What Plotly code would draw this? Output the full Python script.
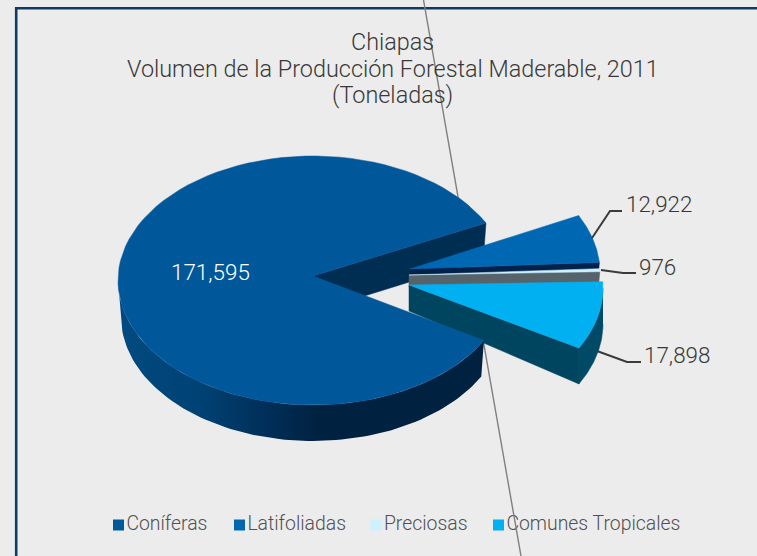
import numpy as np
import plotly.graph_objects as go

# ---- data ----
categories = ["Coníferas", "Latifoliadas", "Preciosas", "Comunes Tropicales"]
values = [171595, 12922, 976, 17898]
title_lines = ["Chiapas", "Volumen de la Producción Forestal Maderable, 2011", "(Toneladas)"]

# ---- colours ----
TOP = ["#00589b", "#0068b2", "#cdf1ff", "#00b0f0"]
CUT = ["#002d52", "#00214a", "#56636b", "#00455f"]
TXT = "#383838"
BG = "#ececec"
FONT = "Roboto"
WEIGHT = 300

# ---- geometry (pixels of the picture) ----
W, H = 757, 556
START = 27.5
RY = 124.5
DEPTH = 36
centres = [(313, 280.5), (407, 272.5), (407, 278), (408, 288)]
radii = [195, 193, 193, 195]
bottom_shrink = [3, 3, 3, 0]
apex_lift = [4.5, 3.5, 3, 3]
apex_drop = [36, 12, 12, 26]
apex_x = [313, 410, 409, 409]
legend_x = [118.5, 239.5, 376, 498.5]
legend_y = 525
title_y = [42, 69, 95]
label_pos = [(210, 272, "#ffffff"), (659, 204, TXT), (657, 267, TXT), (677, 355, TXT)]
leaders = [None,
           ([592, 610, 622], [238, 211, 211]),
           ([601, 623, 636], [270, 273, 273]),
           ([597, 627, 641], [351, 362, 362])]

total = sum(values)
sweeps = [v / total * 360 for v in values]
a_main0, a_main1 = START, START + sweeps[0]
bounds = [(a_main0, a_main1)]
a = START
for s in sweeps[1:]:
    bounds.append((a, a - s))
    a -= s


def rim(i, a0, a1, bottom=False, n=90):
    th = np.radians(np.linspace(a0, a1, n))
    cx, cy = centres[i]
    rx = radii[i] - (bottom_shrink[i] if bottom else 0)
    return cx + rx * np.cos(th), cy + (DEPTH if bottom else 0) - RY * np.sin(th)


fig = go.Figure()


def poly(x, y, color, **kw):
    fig.add_trace(go.Scatter(x=list(x), y=list(y), mode="lines", fill="toself", fillcolor=color,
                             line=dict(color=color, width=0.5), hoverinfo="skip", showlegend=False, **kw))


def line(x, y, color, width):
    fig.add_trace(go.Scatter(x=x, y=y, mode="lines", line=dict(color=color, width=width),
                             hoverinfo="skip", showlegend=False))


# frame, legend and stray rule sit behind the pie
line([16.2, 16.2, W], [H, 8.3, 8.3], "#0e3a63", 2.6)
fig.add_trace(go.Scatter(x=legend_x, y=[legend_y] * 4, mode="markers+text", text=categories,
                         textposition="middle right",
                         textfont=dict(family=FONT, size=19.4, color="#505050", weight=WEIGHT),
                         marker=dict(symbol="square", size=11, color=TOP), hoverinfo="skip", showlegend=False))
line([423.5, 521], [0, H], "#7f7f7f", 1.4)


def cut_face(i, ang):
    x, y = rim(i, ang, ang, n=1)
    xb, yb = rim(i, ang, ang, bottom=True, n=1)
    ax, ay = apex_x[i], centres[i][1] - apex_lift[i]
    poly([ax, x[0], xb[0], ax, ax], [ay, y[0], yb[0], ay + apex_drop[i], ay], CUT[i])


def top_face(i, a0, a1):
    x, y = rim(i, a0, a1)
    ax, ay = apex_x[i], centres[i][1] - apex_lift[i]
    poly(np.r_[ax, x, ax], np.r_[ay, y, ay], TOP[i])


# main slice: the cut face behind the detached wedges
cut_face(0, bounds[0][0])

# detached wedges, back to front
for i in (1, 2, 3):
    a0, a1 = bounds[i]
    cut_face(i, a1)
    if i == 3:
        lo, hi = a1, min(a0, 0)
        xt, yt = rim(i, hi, lo)
        xb, yb = rim(i, lo, hi, bottom=True)
        poly(np.r_[xt, xb], np.r_[yt, yb], "#004a68")
    top_face(i, a0, a1)

# main slice: outer wall with its left-to-right shading, then the top
xt, yt = rim(0, a_main1, 180)
xb, yb = rim(0, 180, a_main1, bottom=True)
fig.add_trace(go.Scatter(
    x=np.r_[xt, xb], y=np.r_[yt, yb], mode="lines", fill="toself",
    line=dict(width=0, color="#00213f"),
    fillgradient=dict(type="horizontal",
                      colorscale=[[0, "#014a80"], [0.22, "#004274"], [0.4, "#002f5a"],
                                  [0.56, "#00213f"], [1, "#00213f"]]),
    hoverinfo="skip", showlegend=False))
top_face(0, a_main0, a_main1)

# leader lines
for l in leaders:
    if l:
        line(l[0], l[1], "#3a3a3a", 2)

for v, (x, y, c) in zip(values, label_pos):
    fig.add_annotation(x=x, y=y, text=f"{v:,}", showarrow=False,
                       font=dict(family=FONT, size=22.4, color=c, weight=WEIGHT), xanchor="center", yanchor="middle")

for t, y in zip(title_lines, title_y):
    fig.add_annotation(x=392.5, y=y, text=t, showarrow=False,
                       font=dict(family=FONT, size=23.4, color=TXT, weight=WEIGHT), xanchor="center", yanchor="middle")

fig.update_layout(
    width=W, height=H, autosize=False, margin=dict(l=0, r=0, t=0, b=0),
    paper_bgcolor=BG, plot_bgcolor=BG, showlegend=False,
    xaxis=dict(range=[0, W], visible=False, fixedrange=True),
    yaxis=dict(range=[H, 0], visible=False, fixedrange=True),
)
fig.write_html("out.html", config=dict(displayModeBar=False),
               post_script="document.body.style.margin='0';document.body.style.background='%s';" % BG)
